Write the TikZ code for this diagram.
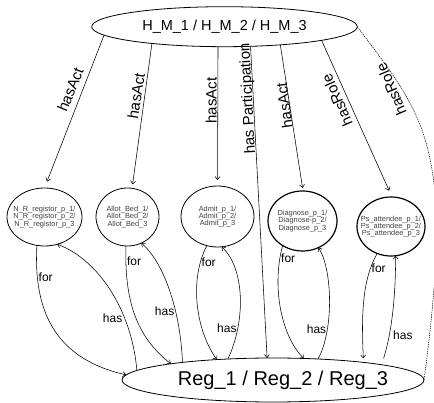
\documentclass[tikz,border=0pt]{standalone}
\usepackage{fontspec}
\setmainfont{Liberation Sans}
\usetikzlibrary{shapes.geometric,arrows.meta}
\begin{document}
\begin{tikzpicture}[x=1pt,y=-1pt,
  conn/.style={line width=0.55pt, -{Straight Barb[length=3pt,width=5pt]}},
  rolelink/.style={line width=0.5pt, dash pattern=on 1.4pt off 0.9pt},
  act/.style={draw, ellipse, line width=0.8pt, inner xsep=-6pt, inner ysep=0pt,
    outer sep=0pt, align=center, text=black!75, font=\fontsize{7.4}{7.2}\selectfont},
  actbold/.style={act, line width=1.2pt},
  rel/.style={font=\fontsize{15}{18}\selectfont, inner sep=0pt, anchor=base},
  lab/.style={font=\fontsize{12}{14}\selectfont, inner sep=1pt},
]
\useasboundingbox (0,0) rectangle (434,403);

% case and registration nodes
\node[draw, ellipse, line width=0.8pt, minimum width=265.6pt, minimum height=40pt,
  inner sep=2pt, outer sep=0pt, font=\fontsize{14.5}{17}\selectfont]
  (hm) at (224.5,26.7) {H\_M\_1 / H\_M\_2 / H\_M\_3};
\node[draw, ellipse, line width=0.8pt, minimum width=302pt, minimum height=44pt,
  inner xsep=-10pt, inner ysep=0pt, outer sep=0pt, font=\fontsize{20}{24}\selectfont]
  (reg) at (273,380) {\hspace*{20pt}Reg\_1 / Reg\_2 / Reg\_3};

% activity and role nodes
\node[act, minimum width=75pt, minimum height=58pt] (nr) at (44.5,217)
  {N\_R\_registor\_p\_1/\\N\_R\_registor\_p\_2/\\N\_R\_registor\_p\_3};
\node[act, minimum width=63pt, minimum height=58pt] (bed) at (127.5,217)
  {Allot\_Bed\_1/\\Allot\_Bed\_2/\\Allot\_Bed\_3};
\node[act, minimum width=73pt, minimum height=61pt] (adm) at (217.5,216.5)
  {Admit\_p\_1/\\Admit\_p\_2/\\Admit\_p\_3};
\node[actbold, minimum width=69pt, minimum height=60pt] (dia) at (302.5,221)
  {Diagnose\_p\_1/\\Diagnose-p\_2/\\Diagnose\_p\_3};
\node[actbold, minimum width=68pt, minimum height=59pt] (ps) at (391,226.5)
  {Ps\_attendee\_p\_1/\\Ps\_attendee\_p\_2/\\Ps\_attendee\_p\_3};

% relations from the case node
\draw[conn, shorten >=7pt] (hm.184.5) --
  node[rel, pos=.385, rotate=67.7, yshift=6.3pt] {hasAct} (nr.90);
\draw[conn, shorten >=4pt] (hm.193.7) --
  node[rel, pos=.371, rotate=80.9, yshift=3.1pt] {hasAct} (bed.81.2);
\draw[conn, shorten >=6pt] (hm.252) --
  node[rel, pos=.387, rotate=90, yshift=1.1pt] {hasAct} (adm.90);
\draw[conn] (hm.323.5) --
  node[rel, pos=.167, rotate=93, yshift=1.1pt] {has Participation} (reg.105.3);
\draw[conn, shorten >=3pt] (hm.342.9) --
  node[rel, pos=.41, rotate=97.9, yshift=0pt] {hasAct} (dia.89);
\draw[conn, shorten >=7pt] (hm.352.4) --
  node[rel, pos=.355, rotate=113.8, yshift=5.1pt] {hasRole} (ps.88);
\draw[rolelink] (hm.east) .. controls +(67.5,90) and +(31.5,-234.5) ..
  node[rel, pos=.245, rotate=113, yshift=4pt] {hasRole} (reg.east);

% for / has links with the registration node
\draw[conn] (nr.255) .. controls +(-4,72) and +(-66,-15) ..
  node[lab, pos=.16, anchor=west] {for} (reg.178);
\draw[conn] (reg.176) .. controls +(-5,-60) and +(41,15) ..
  node[lab, pos=.31, anchor=east, inner sep=2pt] {has} (nr.295.7);
\draw[conn] (bed.267) .. controls +(-2,62) and +(-30,-24) ..
  node[lab, pos=.085, anchor=west] {for} (reg.171.9);
\draw[conn] (reg.169.6) .. controls +(-2,-53) and +(22,19) ..
  node[lab, pos=.34, anchor=east] {has} (bed.298.2);
\draw[conn] (adm.250) .. controls +(-18,34) and +(-21,-29) ..
  node[lab, pos=.15, anchor=west] {for} (reg.160.7);
\draw[conn] (reg.155.5) .. controls +(18,-39) and +(23,22) ..
  node[lab, pos=.25, anchor=east] {has} (adm.278.1);
\draw[conn] (dia.231.5) .. controls +(-11,40) and +(-23,-23) ..
  node[lab, pos=.1, anchor=west] {for} (reg.35.6);
\draw[conn] (reg.25.5) .. controls +(16,-29) and +(14,22) ..
  node[lab, pos=.28, anchor=east] {has} (dia.301.7);
\draw[conn, shorten >=4pt] (ps.243.4) .. controls +(-16,27) and +(-2,-42) ..
  node[lab, pos=.17, anchor=west] {for} (reg.11.3);
\draw[conn, shorten <=6.5pt] (reg.8.6) .. controls +(12,-39) and +(0,30) ..
  node[lab, pos=.25, anchor=west, inner xsep=4pt] {has} (ps.279.8);
\end{tikzpicture}
\end{document}
